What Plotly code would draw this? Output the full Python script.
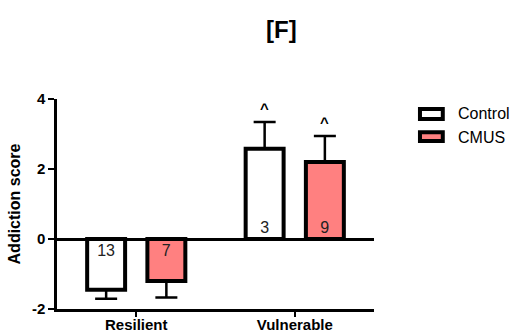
import plotly.graph_objects as go

categories = ["Resilient", "Vulnerable"]
control_mean = [-1.45, 2.58]
control_sem = [0.26, 0.76]
control_n = ["13", "3"]
cmus_mean = [-1.2, 2.2]
cmus_sem = [0.47, 0.74]
cmus_n = ["7", "9"]
sig_marks = ["", "^"]
y_ticks = [-2, 0, 2, 4]

FONT = "Liberation Sans, Arial, sans-serif"
RED = "#FF8080"


def err_parts(means, sems):
    plus = [s if m >= 0 else 0 for m, s in zip(means, sems)]
    minus = [s if m < 0 else 0 for m, s in zip(means, sems)]
    return plus, minus


fig = go.Figure()
for name, means, sems, ns, color in [
    ("Control", control_mean, control_sem, control_n, "white"),
    ("CMUS", cmus_mean, cmus_sem, cmus_n, RED),
]:
    plus, minus = err_parts(means, sems)
    fig.add_trace(go.Bar(
        x=categories, y=means, name=name,
        marker=dict(color=color, line=dict(color="black", width=4)),
        error_y=dict(type="data", symmetric=False, array=plus, arrayminus=minus,
                     color="black", thickness=2.5, width=11),
        text=ns, textposition="inside", insidetextanchor="start", textangle=0,
        textfont=dict(family=FONT, size=16, color="#222222"),
        showlegend=False,
    ))

# significance carets
for shift, means, sems in [(-30, control_mean, control_sem), (30, cmus_mean, cmus_sem)]:
    for cat, m, s, mark in zip(categories, means, sems, sig_marks):
        if mark:
            fig.add_annotation(x=cat, y=m + s, text="<b>%s</b>" % mark, showarrow=False,
                               xshift=shift, yanchor="bottom", yshift=3,
                               font=dict(family=FONT, size=15, color="black"))

# title
fig.add_annotation(xref="paper", yref="paper", x=0.708, y=1.33, text="<b>[F]</b>",
                   showarrow=False, xanchor="center", yanchor="middle",
                   font=dict(family=FONT, size=24, color="black"))

# custom legend
leg = [("Control", "white", 0.962, 0.895, 0.929), ("CMUS", RED, 0.852, 0.790, 0.819)]
for label, col, y1, y0, yt in leg:
    fig.add_shape(type="rect", xref="paper", yref="paper", x0=1.145, x1=1.217,
                  y0=y0 + 0.01, y1=y1 - 0.01, fillcolor=col, line=dict(color="black", width=4))
    fig.add_annotation(xref="paper", yref="paper", x=1.26, y=yt, text=label, showarrow=False,
                       xanchor="left", yanchor="middle",
                       font=dict(family=FONT, size=16, color="black"))

fig.update_layout(
    width=513, height=334,
    margin=dict(l=57, r=139, t=99, b=25),
    paper_bgcolor="white", plot_bgcolor="white",
    barmode="group", bargap=0.24, bargroupgap=0.37,
    font=dict(family=FONT, color="black"),
    showlegend=False,
)
fig.update_xaxes(range=[-0.5, 1.5], showline=True, linecolor="black", linewidth=2.5,
                 ticks="outside", ticklen=5, tickwidth=2, tickcolor="black",
                 tickfont=dict(family=FONT, size=15, color="black"),
                 ticklabelstandoff=-5,
                 tickvals=categories, ticktext=["<b>%s</b>" % c for c in categories],
                 showgrid=False, zeroline=False, automargin=False)
fig.update_yaxes(range=[-2, 4], showline=True, linecolor="black", linewidth=2.5,
                 ticks="outside", ticklen=6, tickwidth=2, tickcolor="black",
                 tickvals=y_ticks, ticktext=["<b>%d</b>" % v for v in y_ticks],
                 tickfont=dict(family=FONT, size=15, color="black"),
                 title=dict(text="<b>Addiction score</b>", standoff=8,
                            font=dict(family=FONT, size=16, color="black")),
                 showgrid=False, zeroline=True, zerolinecolor="black", zerolinewidth=2.5,
                 automargin=False)

fig.write_html("out.html")
